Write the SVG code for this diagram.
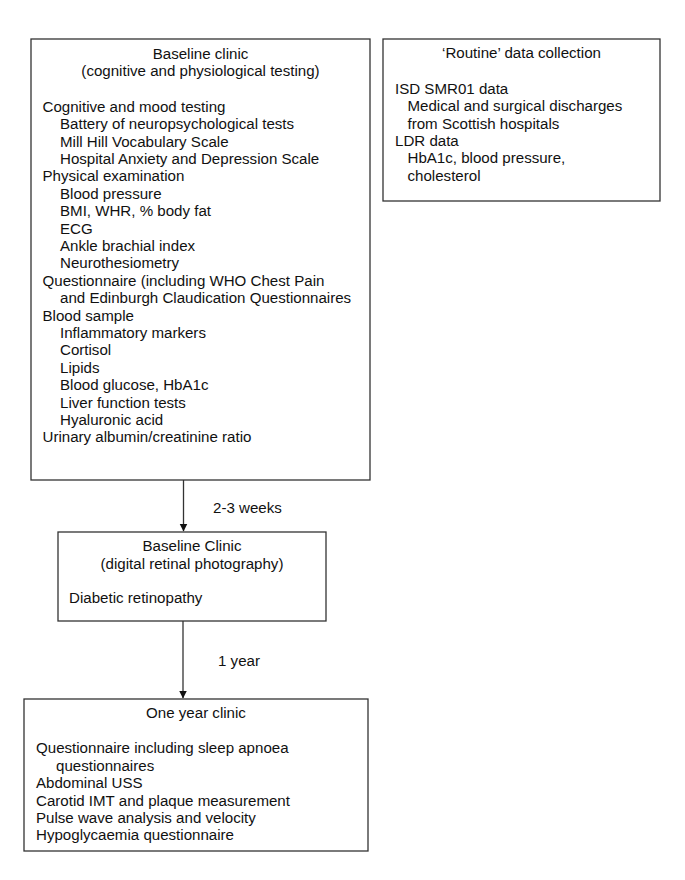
<svg xmlns="http://www.w3.org/2000/svg" width="685" height="880" viewBox="0 0 685 880">
<defs>
<style>
.box{fill:#fff;stroke:#333;stroke-width:1.3}
text{font-family:"Liberation Sans",Arial,sans-serif;font-size:15.1px;fill:#111}
.c{text-anchor:middle}
.conn line{stroke:#333;stroke-width:1.3}
</style>
<marker id="ah" markerWidth="8" markerHeight="9" refX="7.5" refY="4" orient="auto" markerUnits="userSpaceOnUse">
<path d="M0,0 L8,4 L0,8 Z" fill="#111"/>
</marker>
</defs>
<rect width="685" height="880" fill="#fff"/>
<g id="baseline-clinic">
<rect class="box" x="31" y="39" width="339" height="441"/>
<text class="c" x="200.5" y="58.5">Baseline clinic</text>
<text class="c" x="200.5" y="76">(cognitive and physiological testing)</text>
<text x="42.5" y="111.7">Cognitive and mood testing</text>
<text x="60" y="129.1">Battery of neuropsychological tests</text>
<text x="60" y="146.5">Mill Hill Vocabulary Scale</text>
<text x="60" y="163.9">Hospital Anxiety and Depression Scale</text>
<text x="42.5" y="181.3">Physical examination</text>
<text x="60" y="198.7">Blood pressure</text>
<text x="60" y="216.1">BMI, WHR, % body fat</text>
<text x="60" y="233.5">ECG</text>
<text x="60" y="250.9">Ankle brachial index</text>
<text x="60" y="268.3">Neurothesiometry</text>
<text x="42.5" y="285.7">Questionnaire (including WHO Chest Pain</text>
<text x="60" y="303.1">and Edinburgh Claudication Questionnaires</text>
<text x="42.5" y="320.5">Blood sample</text>
<text x="60" y="337.9">Inflammatory markers</text>
<text x="60" y="355.3">Cortisol</text>
<text x="60" y="372.7">Lipids</text>
<text x="60" y="390.1">Blood glucose, HbA1c</text>
<text x="60" y="407.5">Liver function tests</text>
<text x="60" y="424.9">Hyaluronic acid</text>
<text x="42.5" y="442.3">Urinary albumin/creatinine ratio</text>
</g>
<g id="routine-data">
<rect class="box" x="383" y="39" width="277" height="162"/>
<text class="c" x="521.5" y="58">‘Routine’ data collection</text>
<text x="395" y="93.8">ISD SMR01 data</text>
<text x="407.5" y="111.2">Medical and surgical discharges</text>
<text x="407.5" y="128.6">from Scottish hospitals</text>
<text x="395" y="146">LDR data</text>
<text x="407.5" y="163.4">HbA1c, blood pressure,</text>
<text x="407.5" y="180.8">cholesterol</text>
</g>
<g id="baseline-retinal">
<rect class="box" x="58" y="532" width="268" height="89"/>
<text class="c" x="192" y="551">Baseline Clinic</text>
<text class="c" x="192" y="568.5">(digital retinal photography)</text>
<text x="69" y="603.3">Diabetic retinopathy</text>
</g>
<g id="one-year-clinic">
<rect class="box" x="24" y="699" width="344" height="152"/>
<text class="c" x="196" y="718.3">One year clinic</text>
<text x="36" y="753.3">Questionnaire including sleep apnoea</text>
<text x="56" y="770.7">questionnaires</text>
<text x="36" y="788.1">Abdominal USS</text>
<text x="36" y="805.5">Carotid IMT and plaque measurement</text>
<text x="36" y="822.9">Pulse wave analysis and velocity</text>
<text x="36" y="840.3">Hypoglycaemia questionnaire</text>
</g>
<g id="connectors" class="conn">
<line x1="183.5" y1="480" x2="183.5" y2="531" marker-end="url(#ah)"/>
<line x1="183" y1="621" x2="183" y2="698" marker-end="url(#ah)"/>
<text x="213" y="512.7">2-3 weeks</text>
<text x="218" y="665.7">1 year</text>
</g>
</svg>
